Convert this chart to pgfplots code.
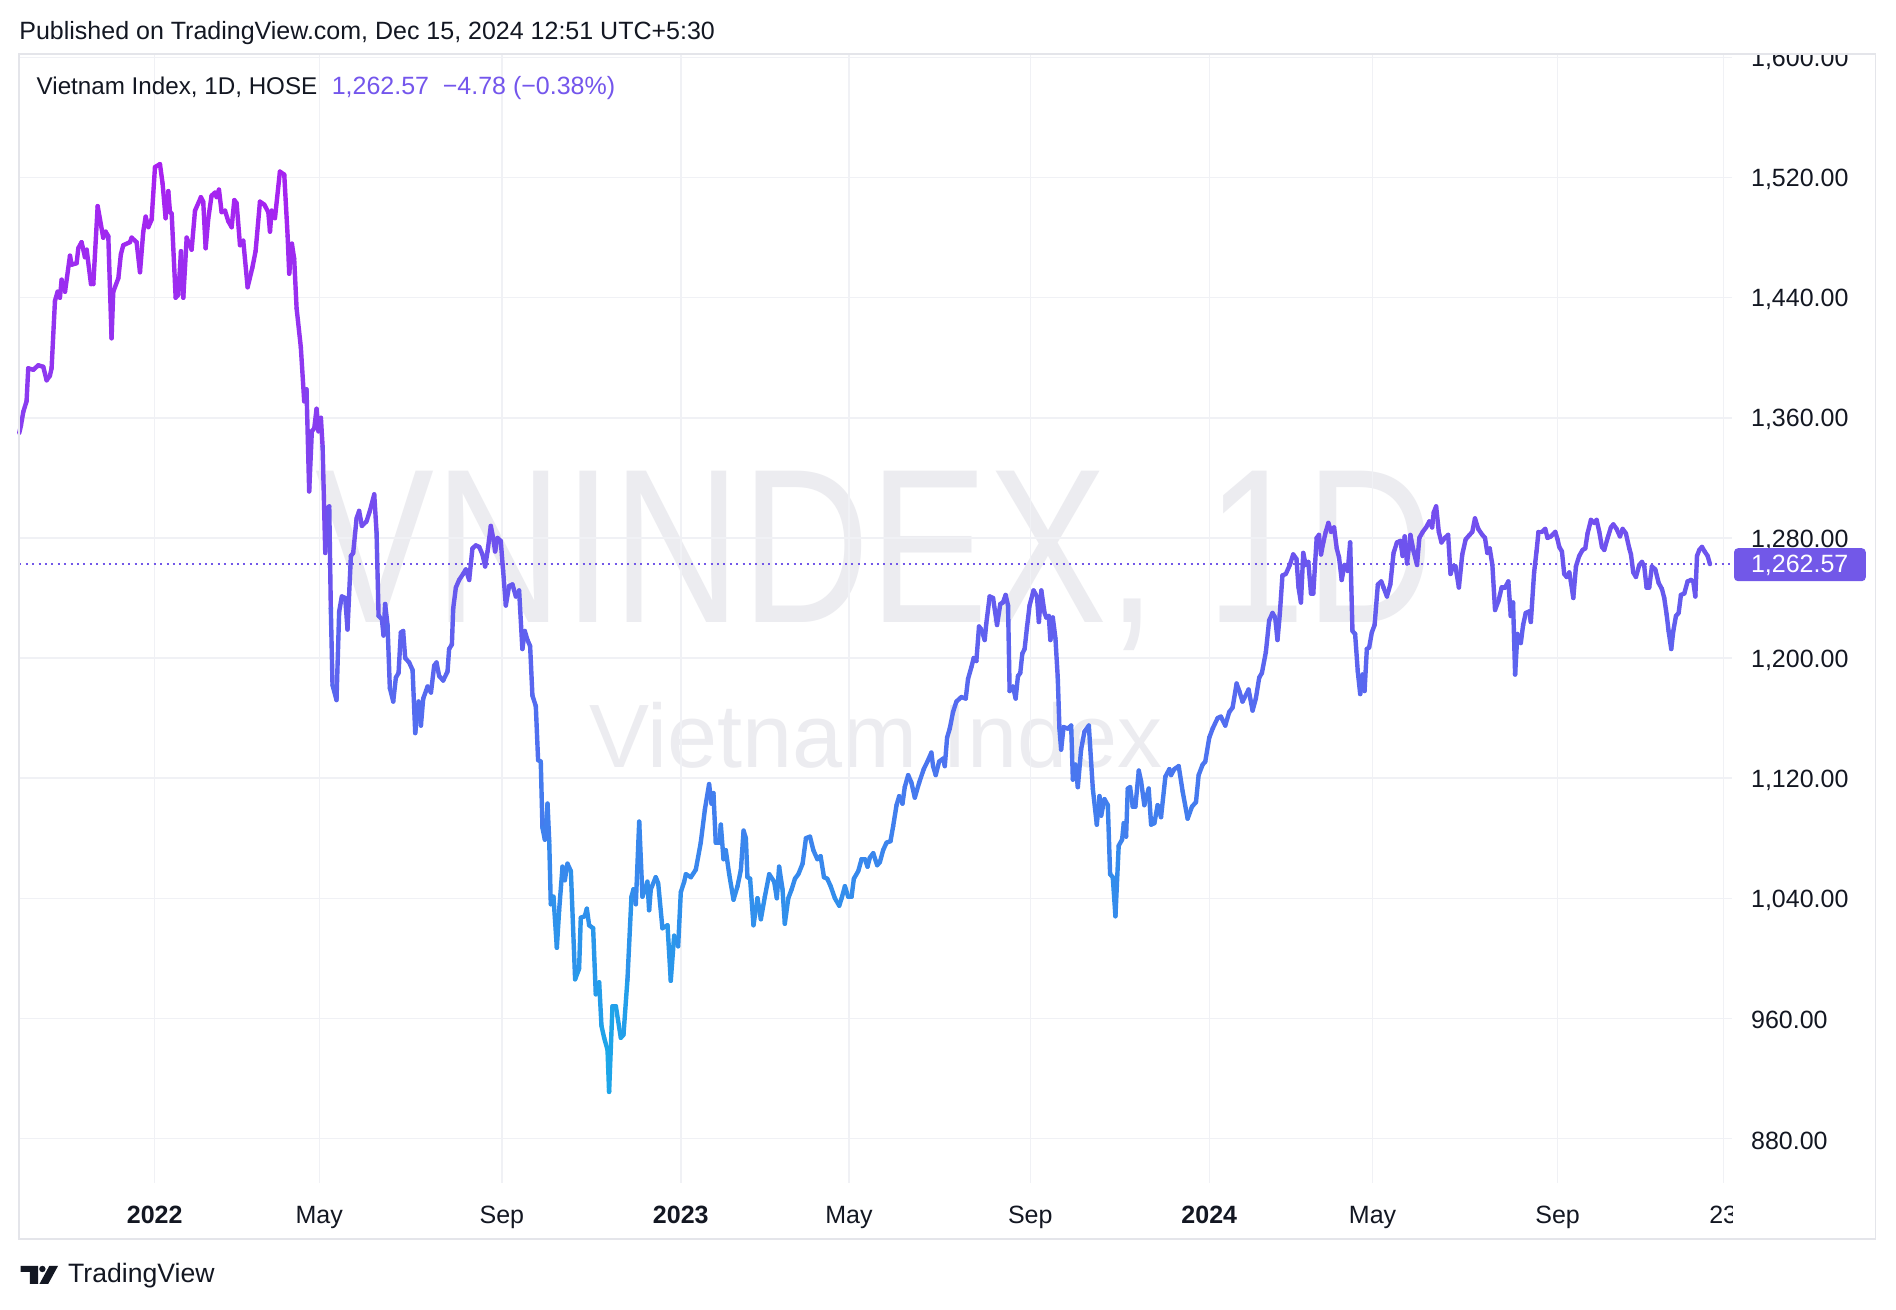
\documentclass[border=0pt]{standalone}
\usepackage{fontspec}
\setmainfont{Liberation Sans}
\usepackage{graphicx}
\usepackage{pgfplots}
\pgfplotsset{compat=1.18}

\definecolor{txt}{HTML}{131722}
\definecolor{gridc}{HTML}{F0F1F5}
\definecolor{framec}{HTML}{E4E5EA}
\definecolor{tvpurple}{HTML}{7258E8}
\definecolor{legpurple}{HTML}{7456EC}
\definecolor{wm}{HTML}{ECECF0}

\pgfplotsset{colormap={tvgrad}{rgb255(0pt)=(24,172,232) rgb255(130pt)=(50,142,236)
  rgb255(240pt)=(80,112,240) rgb255(350pt)=(106,86,238) rgb255(450pt)=(136,62,240)
  rgb255(620pt)=(170,32,240)}}

% VN-Index daily close, x = bar position (px from left edge of the chart)
\pgfplotstableread{
x y
0 1350
1.4 1355
3.3 1364
6 1371
7.4 1393
11.6 1392
15.7 1395
19.8 1394
22.6 1385
25.3 1388
26.7 1393
29.5 1438
31.7 1444
33.6 1440
35 1452
37.8 1444
41.9 1468
43.3 1462
47.4 1463
48.8 1473
51.5 1477
54.3 1467
55.7 1472
59.3 1449
61.2 1449
64.8 1501
69.4 1480
71.4 1484
73.6 1481
76.3 1413
77.7 1444
81.9 1453
84 1469
86 1475
91.5 1477
92.9 1480
97 1477
99.8 1457
102.5 1484
104.5 1494
106.7 1487
109.4 1492
112.2 1527
116.3 1529
118.5 1516
121 1493
123.2 1511
124.6 1497
126 1496
129.3 1440
131.5 1442
133.7 1471
135.6 1440
138.4 1480
142.5 1472
145.3 1498
150.2 1507
152.1 1504
154.1 1473
156.3 1493
159 1508
161.8 1510
163.2 1507
165.1 1512
167.3 1497
170.1 1498
172.8 1491
175.6 1487
177.8 1505
179.7 1503
182.5 1475
185.2 1478
188.8 1447
192.7 1460
195.4 1471
199 1504
202.6 1502
205.9 1497
207.3 1484
208.7 1498
211.4 1493
215.5 1524
219.1 1522
221.9 1481
223.2 1456
225.4 1476
227.3 1466
229.3 1433
232.8 1407
235.6 1371
237.5 1379
239.7 1311
241.9 1351
243.9 1353
245.8 1366
247.4 1351
249.4 1360
250.8 1341
253 1270
254.9 1300
256.3 1301
257.6 1233
259 1182
262.3 1172
264.5 1231
266.7 1241
269.5 1240
271.4 1219
274.2 1268
276.1 1270
278.9 1293
281 1298
283.3 1288
287.1 1291
289.9 1298
293.5 1309
295.4 1284
297.1 1228
299.8 1226
301.2 1215
302.5 1236
304.5 1222
306.4 1180
309.2 1171
311.4 1187
313.6 1190
315.5 1217
317.4 1218
319.1 1200
322.4 1197
325.2 1192
327.4 1150
330.2 1171
332.1 1155
334 1173
337.6 1181
340.4 1177
343.1 1195
345 1197
347.2 1188
350.5 1185
354.1 1191
355.4 1206
357.7 1209
358.8 1233
361 1247
363.7 1252
367 1256
369.2 1259
372 1252
374.7 1273
377.5 1275
380.3 1274
383 1269
385.2 1261
387.2 1271
389.9 1288
391.8 1280
393.5 1271
395.4 1280
398.1 1278
400.1 1258
402.3 1235
405 1248
407.8 1249
410.6 1241
413.3 1245
416 1206
418 1218
420.2 1212
422.4 1208
424.3 1175
427.1 1168
429 1132
431.2 1131
432.6 1087
434.6 1079
436.8 1103
438.2 1078
439.5 1036
441.7 1041
444.5 1007
446.4 1032
449.2 1061
451.1 1052
453.3 1063
456.1 1058
459.6 986
462.9 993
464.3 1027
467.6 1028
469.3 1033
471.2 1022
474.5 1020
476.7 976
479.5 984
481.4 955
483.6 947
486.4 939
487.7 911
490.5 968
493.3 968
497.4 947
499.6 949
502.9 986
506.2 1041
507.9 1046
509.8 1036
512.6 1091
515.3 1041
519.4 1051
520.8 1032
522.2 1046
526.3 1054
528.3 1050
531.8 1020
536 1022
538.7 985
541.5 1015
544.8 1008
547 1044
549.8 1051
551.2 1056
555.3 1054
559.4 1059
563.5 1077
566.9 1099
570.4 1116
572.4 1103
574 1110
575.9 1077
578.7 1077
580.1 1089
582.3 1066
584.2 1072
587 1056
590.6 1039
593.9 1048
596.7 1059
598.9 1085
600.8 1080
602.1 1054
604.3 1053
607.1 1022
610.4 1040
613.2 1026
616.5 1041
620.1 1056
624.2 1051
626.4 1040
628.3 1061
631.1 1046
633 1023
635.9 1040
638.7 1046
641.4 1053
644.2 1056
647.7 1063
650.5 1080
653.8 1081
656.6 1072
659.9 1066
662.6 1068
665.4 1054
668.1 1053
670.9 1048
674.4 1040
678 1035
680 1040
682.7 1048
685.4 1041
688.2 1041
690.1 1053
693.7 1058
696.5 1066
699.2 1066
701.4 1061
703.3 1067
706.1 1070
709.4 1062
711.6 1064
714.3 1072
717.1 1077
720.4 1078
722.6 1088
725.4 1102
727.6 1108
730.3 1103
732.2 1114
735 1122
737.7 1117
740.5 1107
744.1 1117
747.9 1126
751.5 1132
754.2 1137
755.6 1128
757.8 1122
760.6 1131
763.9 1133
765.3 1128
767.2 1147
769.4 1153
772.1 1164
774.9 1171
779 1174
782.6 1173
784.5 1186
787.3 1194
789.2 1200
791.4 1198
793.6 1221
795.5 1219
798.3 1212
799.6 1223
802.4 1241
805.2 1240
808.5 1222
811.2 1236
813.4 1237
815.6 1242
817.6 1235
818.9 1178
821.7 1181
823.9 1173
825.8 1188
827.7 1190
829.4 1203
831.3 1206
833.2 1220
835.4 1235
838.7 1245
841.5 1241
843.1 1224
845.1 1245
847.8 1230
849.2 1227
851.3 1228
852.6 1212
854.6 1227
856.8 1213
858.7 1187
860.1 1153
861.5 1139
863.5 1154
867 1153
869.8 1155
871.2 1119
873.4 1129
875.3 1114
878 1139
880.8 1151
884.4 1155
887.7 1113
891 1089
893.2 1108
894.6 1095
897.3 1106
900.1 1102
902 1056
904.2 1054
906.4 1028
909.1 1075
911.9 1079
913.3 1090
915.2 1081
916.6 1113
918.5 1114
920.7 1101
922.9 1101
925.7 1125
927.6 1118
930.3 1102
933.9 1113
935.9 1089
938.6 1090
941.3 1102
944.1 1094
947.7 1121
951 1126
952.4 1122
955.1 1126
958.7 1128
962 1111
966.1 1093
969.7 1101
973 1104
975.2 1122
978.5 1129
980.7 1131
984 1147
986.8 1153
990.9 1160
993.6 1161
997.2 1155
1000.5 1164
1003.3 1167
1006.6 1183
1008.8 1178
1011.5 1171
1016.5 1179
1019.8 1165
1022.5 1173
1025.3 1187
1027.5 1190
1030.8 1204
1033.5 1225
1036.3 1230
1038.5 1227
1040.4 1212
1042.3 1229
1044.5 1255
1047.3 1256
1050.6 1262
1053.4 1269
1056.1 1266
1057.8 1247
1059.8 1237
1061.7 1270
1063.7 1262
1065.9 1264
1068.1 1243
1070 1243
1072.8 1280
1074.7 1282
1076.4 1269
1078.3 1277
1080.3 1284
1082.5 1290
1084.7 1284
1087.2 1287
1089.4 1273
1091.3 1267
1093.5 1252
1095.8 1262
1098.5 1258
1100.5 1277
1102.4 1218
1104.6 1216
1106.8 1191
1108.8 1176
1110.7 1189
1112.4 1178
1114.3 1206
1116.2 1207
1118.4 1217
1120.7 1222
1123.4 1249
1126.2 1251
1128.1 1247
1130.9 1241
1133.7 1249
1136.4 1270
1139.2 1277
1142 1278
1143.9 1268
1145.6 1281
1147.5 1263
1150.3 1282
1153 1271
1155.8 1262
1157.7 1280
1160.5 1284
1163.3 1287
1166 1291
1168.3 1287
1169.6 1297
1171.6 1301
1173.8 1284
1176 1277
1178.8 1280
1181.5 1282
1183.5 1256
1185.4 1261
1187.6 1261
1190.4 1247
1193.2 1269
1196 1279
1199.2 1282
1201.5 1284
1203.7 1293
1206.4 1286
1209.8 1282
1212 1280
1213.9 1270
1215.9 1273
1218.1 1262
1220.3 1232
1223.1 1238
1225.8 1247
1228.6 1247
1231.3 1251
1233.3 1228
1235.2 1237
1236.9 1189
1238.8 1216
1241.6 1210
1243.5 1222
1245.7 1230
1248.5 1231
1249.9 1224
1252.6 1257
1254.6 1271
1256.2 1284
1259 1284
1261.8 1286
1263.7 1280
1266.5 1281
1270.1 1284
1272 1279
1273.4 1274
1275.6 1271
1277.5 1256
1279.5 1254
1281.7 1257
1283 1251
1285 1240
1287.2 1261
1289.9 1268
1292.7 1272
1294.9 1273
1296.8 1283
1299.6 1292
1302.3 1290
1304.3 1292
1306.5 1284
1308.7 1274
1310.6 1272
1313.4 1280
1316.1 1287
1318.1 1289
1320.8 1286
1323.6 1281
1325.8 1286
1328.5 1283
1331.3 1273
1332.7 1269
1334.6 1257
1336.8 1254
1339.6 1262
1341.8 1264
1343.7 1261
1345.6 1247
1347.8 1247
1350 1261
1352.8 1259
1355.6 1250
1358.3 1246
1360.2 1240
1362.2 1229
1363.8 1218
1366 1206
1367.7 1218
1369.9 1228
1372.1 1230
1374 1242
1376.8 1243
1379.5 1251
1382.3 1252
1384.2 1251
1385.9 1241
1387.3 1268
1389.2 1272
1391.4 1274
1393.6 1271
1396.1 1268
1398 1262.57
}\vnindex

\begin{document}
\begin{tikzpicture}
\useasboundingbox (0,0) rectangle (948pt,655pt);
\fill[white] (0,0) rectangle (948pt,655pt);

% watermark
\node[anchor=base, text=wm, inner sep=0pt] at (437.5pt,343.6pt)
  {\scalebox{0.81}[1]{\fontsize{110}{110}\selectfont VNINDEX, 1D}};
\node[anchor=base, text=wm, inner sep=0pt] at (438pt,271pt)
  {\fontsize{45}{45}\selectfont Vietnam Index};

\begin{axis}[
    at={(9.65pt,63.5pt)}, anchor=south west,
    width=856.2pt, height=564.3pt, scale only axis,
    xmin=0, xmax=1416, ymin=850.3, ymax=1602.1,
    clip=false,
    axis line style={draw=none},
    tick style={draw=none},
    grid=major,
    major grid style={color=gridc, line width=0.7pt},
    xtick={112,248,399,547,686,836,984,1119,1272,1409},
    xticklabels={\textbf{2022},May,Sep,\textbf{2023},May,Sep,\textbf{2024},May,Sep,23},
    xticklabel style={anchor=base, yshift=-20.3pt, inner sep=0pt,
        font=\fontsize{12.5}{14}\selectfont, text=txt},
    ytick={880,960,...,1600},
    yticklabel pos=right,
    scaled y ticks=false,
    yticklabel style={anchor=west, xshift=9.5pt, yshift=-1pt, inner sep=0pt,
        font=\fontsize{12.5}{14}\selectfont, text=txt,
        /pgf/number format/.cd, fixed, fixed zerofill, precision=2,
        1000 sep={,}, assume math mode=true},
    colormap name=tvgrad,
    point meta min=910, point meta max=1530,
]
\addplot[tvpurple, line width=0.9pt, dash pattern=on 1pt off 2.2pt]
  coordinates {(0,1262.57) (1416,1262.57)};
\addplot[mesh, point meta=y, line width=2.2pt, line cap=round, line join=round]
  table[x=x, y=y] {\vnindex};
\end{axis}

% clip the half-hidden labels at the chart edges
\fill[white] (866.5pt,627.9pt) rectangle (947pt,655pt);
\fill[white] (866.5pt,36pt) rectangle (937pt,62pt);

% price label
\fill[tvpurple, rounded corners=2pt] (867pt,364.4pt) rectangle (932.9pt,380.9pt);
\node[anchor=west, inner sep=0pt, text=white, font=\fontsize{12.5}{14}\selectfont]
  at (875.3pt,372.1pt) {1,262.57};

% frame
\draw[framec, line width=0.9pt] (9.65pt,35.3pt) rectangle (937.75pt,627.8pt);

% header and legend
\node[anchor=base west, inner sep=0pt, text=txt, font=\fontsize{12.5}{14}\selectfont]
  at (9.5pt,635pt) {Published on TradingView.com, Dec 15, 2024 12:51 UTC+5:30};
\node[anchor=base west, inner sep=0pt, text=txt, font=\fontsize{12.1}{14}\selectfont]
  at (18.15pt,607.85pt) {Vietnam Index, 1D, HOSE};
\node[anchor=base west, inner sep=0pt, text=legpurple, font=\fontsize{12.5}{14}\selectfont]
  at (165.7pt,607.85pt) {1,262.57\hspace{0.55em}−4.78 (−0.38\%)};

% footer logo
\fill[txt] (10.25pt,22pt) -- (19pt,22pt) -- (19pt,13pt) -- (14.98pt,13pt)
  -- (14.98pt,19pt) -- (10.25pt,19pt) -- cycle;
\fill[txt] (21.2pt,20.5pt) circle (1.6pt);
\fill[txt] (19.72pt,13pt) -- (24.08pt,13pt) -- (29pt,22pt) -- (24.63pt,22pt) -- cycle;
\node[anchor=base west, inner sep=0pt, text=txt, font=\fontsize{13.3}{15}\selectfont]
  at (33.9pt,13.5pt) {TradingView};
\end{tikzpicture}
\end{document}
